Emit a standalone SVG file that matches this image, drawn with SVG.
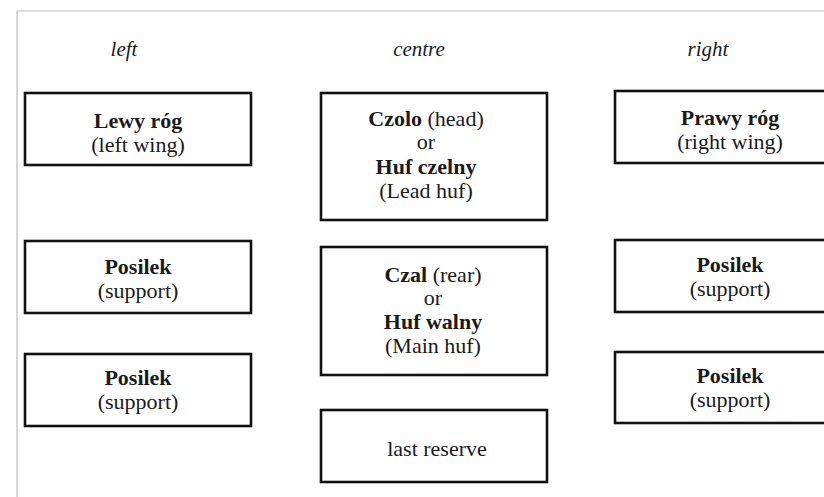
<svg xmlns="http://www.w3.org/2000/svg" width="824" height="497" viewBox="0 0 824 497">
<style>
  .box { fill: #ffffff; stroke: #111111; stroke-width: 2.6; }
  text { font-family: "Liberation Serif", "Times New Roman", serif; font-size: 22px; fill: #1a1a1a; text-anchor: middle; }
  .hd { font-style: italic; font-size: 21px; }
  .b { font-weight: bold; }
</style>
<rect x="0" y="0" width="824" height="497" fill="#ffffff"/>
<g id="frame">
  <line x1="17" y1="11" x2="824" y2="11" stroke="#bdbdbd" stroke-width="1.2"/>
  <line x1="17" y1="11" x2="17" y2="497" stroke="#bdbdbd" stroke-width="1.2"/>
</g>
<g id="headers">
  <text class="hd" x="124" y="56">left</text>
  <text class="hd" x="419" y="56">centre</text>
  <text class="hd" x="708" y="56">right</text>
</g>
<g id="left-wing">
  <rect class="box" x="25" y="93" width="226" height="72"/>
  <text x="138" y="128" class="b">Lewy róg</text>
  <text x="138" y="152">(left wing)</text>
</g>
<g id="left-support-1">
  <rect class="box" x="25" y="241" width="226" height="72"/>
  <text x="138" y="274" class="b">Posilek</text>
  <text x="138" y="298">(support)</text>
</g>
<g id="left-support-2">
  <rect class="box" x="25" y="354" width="226" height="72"/>
  <text x="138" y="385" class="b">Posilek</text>
  <text x="138" y="409">(support)</text>
</g>
<g id="centre-head">
  <rect class="box" x="321" y="93" width="226" height="127"/>
  <text x="426" y="126"><tspan class="b">Czolo</tspan> (head)</text>
  <text x="426" y="149">or</text>
  <text x="426" y="174" class="b">Huf czelny</text>
  <text x="426" y="198">(Lead huf)</text>
</g>
<g id="centre-rear">
  <rect class="box" x="321" y="247" width="226" height="128"/>
  <text x="433" y="282"><tspan class="b">Czal</tspan> (rear)</text>
  <text x="433" y="305">or</text>
  <text x="433" y="329" class="b">Huf walny</text>
  <text x="433" y="353">(Main huf)</text>
</g>
<g id="last-reserve">
  <rect class="box" x="321" y="410" width="226" height="72"/>
  <text x="437" y="456">last reserve</text>
</g>
<g id="right-wing">
  <rect class="box" x="615" y="91" width="240" height="72"/>
  <text x="730" y="125" class="b">Prawy róg</text>
  <text x="730" y="149">(right wing)</text>
</g>
<g id="right-support-1">
  <rect class="box" x="615" y="240" width="240" height="72"/>
  <text x="730" y="272" class="b">Posilek</text>
  <text x="730" y="296">(support)</text>
</g>
<g id="right-support-2">
  <rect class="box" x="615" y="352" width="240" height="71"/>
  <text x="730" y="383" class="b">Posilek</text>
  <text x="730" y="407">(support)</text>
</g>
<g id="connectors"></g>
</svg>
